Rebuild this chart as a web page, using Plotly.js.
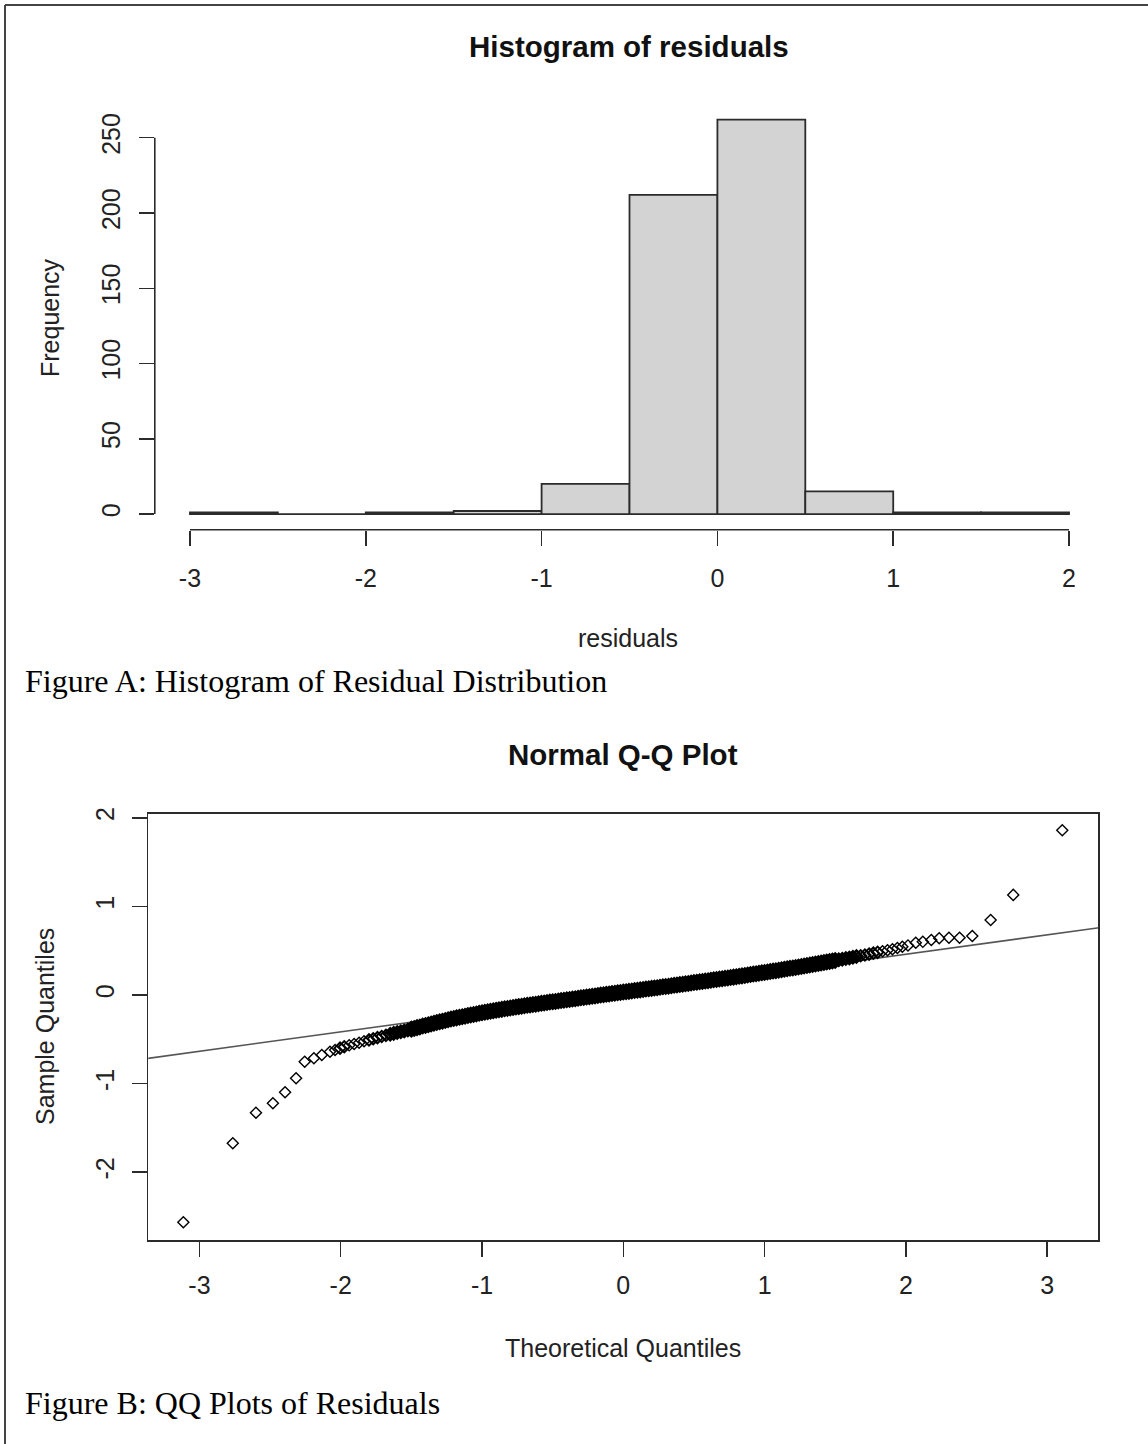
<!DOCTYPE html>
<html>
<head>
<meta charset="utf-8">
<script src="https://cdn.plot.ly/plotly-3.0.1.min.js"></script>
<style>
html,body{margin:0;padding:0;background:#fff;}
#chart{width:1148px;height:1444px;}
</style>
</head>
<body>
<div id="chart"></div>
<script>
// ---------- Data: histogram of residuals ----------
const binEdges = [-3, -2.5, -2, -1.5, -1, -0.5, 0, 0.5, 1, 1.5, 2];
const binCounts = [1, 0, 1, 2, 20, 212, 262, 15, 1, 1];
const histXTicks = [-3, -2, -1, 0, 1, 2];
const histYTicks = [0, 50, 100, 150, 200, 250];

// ---------- Data: normal Q-Q plot ----------
const qqTheoretical = [
  -3.114, -2.764, -2.60, -2.48, -2.394, -2.316, -2.255, -2.19, -2.134, -2.076,
  -2.04, -2.005, -1.975, -1.94, -1.905, -1.87, -1.835, -1.80, -1.77, -1.74,
  -1.71, -1.68, -1.65, -1.625, -1.60, -1.575, -1.55, -1.525,
  -1.50, -1.48, -1.46, -1.44, -1.42, -1.40, -1.38, -1.36, -1.34, -1.32,
  -1.30, -1.28, -1.26, -1.24, -1.22, -1.20, -1.18, -1.16, -1.14, -1.12,
  -1.10, -1.08, -1.06, -1.04, -1.02, -1.00, -0.98, -0.96, -0.94, -0.92,
  -0.90, -0.88, -0.86, -0.84, -0.82, -0.80, -0.78, -0.76, -0.74, -0.72,
  -0.70, -0.68, -0.66, -0.64, -0.62, -0.60, -0.58, -0.56, -0.54, -0.52,
  -0.50, -0.48, -0.46, -0.44, -0.42, -0.40, -0.38, -0.36, -0.34, -0.32,
  -0.30, -0.28, -0.26, -0.24, -0.22, -0.20, -0.18, -0.16, -0.14, -0.12,
  -0.10, -0.08, -0.06, -0.04, -0.02, 0.00, 0.02, 0.04, 0.06, 0.08,
  0.10, 0.12, 0.14, 0.16, 0.18, 0.20, 0.22, 0.24, 0.26, 0.28,
  0.30, 0.32, 0.34, 0.36, 0.38, 0.40, 0.42, 0.44, 0.46, 0.48,
  0.50, 0.52, 0.54, 0.56, 0.58, 0.60, 0.62, 0.64, 0.66, 0.68,
  0.70, 0.72, 0.74, 0.76, 0.78, 0.80, 0.82, 0.84, 0.86, 0.88,
  0.90, 0.92, 0.94, 0.96, 0.98, 1.00, 1.02, 1.04, 1.06, 1.08,
  1.10, 1.12, 1.14, 1.16, 1.18, 1.20, 1.22, 1.24, 1.26, 1.28,
  1.30, 1.32, 1.34, 1.36, 1.38, 1.40, 1.42, 1.44, 1.46, 1.48,
  1.50, 1.525, 1.55, 1.575, 1.60, 1.625, 1.65, 1.68, 1.71, 1.74,
  1.77, 1.80, 1.835, 1.87, 1.905, 1.94, 1.975, 2.015, 2.07, 2.12,
  2.18, 2.236, 2.305, 2.38, 2.47, 2.60, 2.76, 3.107
];
const qqSample = [
  -2.565, -1.674, -1.328, -1.222, -1.098, -0.940, -0.753, -0.714, -0.677, -0.640,
  -0.620, -0.600, -0.584, -0.568, -0.553, -0.538, -0.522, -0.507, -0.494, -0.481,
  -0.468, -0.455, -0.443, -0.433, -0.423, -0.414, -0.405, -0.396,
  -0.385, -0.377, -0.368, -0.360, -0.351, -0.343, -0.335, -0.327, -0.318, -0.310,
  -0.302, -0.295, -0.287, -0.280, -0.272, -0.265, -0.258, -0.252, -0.245, -0.239,
  -0.232, -0.226, -0.219, -0.213, -0.206, -0.200, -0.194, -0.189, -0.183, -0.178,
  -0.172, -0.167, -0.162, -0.156, -0.151, -0.146, -0.141, -0.136, -0.131, -0.126,
  -0.121, -0.116, -0.112, -0.107, -0.103, -0.098, -0.094, -0.089, -0.085, -0.080,
  -0.076, -0.072, -0.067, -0.063, -0.058, -0.054, -0.050, -0.045, -0.041, -0.036,
  -0.032, -0.028, -0.023, -0.019, -0.014, -0.010, -0.006, -0.001, 0.003, 0.008,
  0.012, 0.016, 0.020, 0.025, 0.029, 0.033, 0.037, 0.041, 0.046, 0.050,
  0.054, 0.058, 0.062, 0.067, 0.071, 0.075, 0.079, 0.083, 0.088, 0.092,
  0.096, 0.100, 0.105, 0.109, 0.114, 0.118, 0.122, 0.127, 0.131, 0.136,
  0.140, 0.144, 0.149, 0.153, 0.158, 0.162, 0.166, 0.171, 0.175, 0.180,
  0.184, 0.189, 0.193, 0.198, 0.202, 0.207, 0.212, 0.216, 0.221, 0.226,
  0.231, 0.236, 0.241, 0.245, 0.250, 0.255, 0.260, 0.265, 0.270, 0.275,
  0.280, 0.285, 0.290, 0.296, 0.301, 0.306, 0.311, 0.317, 0.322, 0.328,
  0.333, 0.339, 0.344, 0.350, 0.355, 0.361, 0.367, 0.373, 0.378, 0.384,
  0.390, 0.397, 0.404, 0.411, 0.418, 0.426, 0.434, 0.443, 0.452, 0.462,
  0.472, 0.482, 0.493, 0.505, 0.517, 0.530, 0.545, 0.560, 0.590, 0.600,
  0.620, 0.640, 0.647, 0.647, 0.666, 0.846, 1.130, 1.860
];
// reference line (qqline) endpoints, in data units
const qqLineX = [-3.5, 3.5];
const qqLineY = [-0.745, 0.789];
const qqXTicks = [-3, -2, -1, 0, 1, 2, 3];
const qqYTicks = [-2, -1, 0, 1, 2];

// ---------- Text ----------
const histTitle = 'Histogram of residuals';
const histXLabel = 'residuals';
const histYLabel = 'Frequency';
const qqTitle = 'Normal Q-Q Plot';
const qqXLabel = 'Theoretical Quantiles';
const qqYLabel = 'Sample Quantiles';
const captionA = 'Figure A: Histogram of Residual Distribution';
const captionB = 'Figure B: QQ Plots of Residuals';

// ---------- Build ----------
const W = 1148, H = 1444;
const px = v => v / W;             // pixel x -> paper
const py = v => 1 - v / H;         // pixel y (from top) -> paper

const binMid = binCounts.map((c, i) => (binEdges[i] + binEdges[i + 1]) / 2);
const binWidth = binCounts.map((c, i) => binEdges[i + 1] - binEdges[i]);

// Where points are packed closely, the original's overlapping open symbols merge
// into a solid black band; emulate with filled symbols / heavier outlines there.
const qqDensity = qqTheoretical.map((v, i) => {
  const a = i > 0 ? v - qqTheoretical[i - 1] : 1;
  const b = i < qqTheoretical.length - 1 ? qqTheoretical[i + 1] - v : 1;
  const gap = Math.min(a, b);
  if (gap <= 0.021) return 1;
  if (gap >= 0.034) return 0;
  return 1 - (gap - 0.021) / 0.013;
});
const qqSymbols = qqDensity.map(d => d >= 1 ? 'diamond' : 'diamond-open');
const qqLineWidths = qqDensity.map(d => 1.4 + 1.8 * d);
const qqSizes = qqDensity.map(d => d >= 1 ? 10 : 8.5 + 0.8 * d);

const SANS = 'Arial, "Liberation Sans", sans-serif';
const SERIF = '"Times New Roman", "Liberation Serif", serif';
const INK = '#2b2b2b';
const tickFont = {family: SANS, size: 25, color: '#222'};

const traces = [
  {
    type: 'bar', x: binMid, y: binCounts, width: binWidth,
    xaxis: 'x', yaxis: 'y',
    marker: {color: '#D3D3D3', line: {color: INK, width: 1.8}},
    hoverinfo: 'skip'
  },
  {
    type: 'scatter', mode: 'lines', x: qqLineX, y: qqLineY,
    xaxis: 'x2', yaxis: 'y2',
    line: {color: '#555', width: 1.6}, hoverinfo: 'skip'
  },
  {
    type: 'scatter', mode: 'markers', x: qqTheoretical, y: qqSample,
    xaxis: 'x2', yaxis: 'y2', cliponaxis: true,
    marker: {symbol: qqSymbols, size: qqSizes, color: '#000', opacity: 1,
             line: {width: qqLineWidths, color: '#000'}},
    hoverinfo: 'skip'
  }
];

const axisCommon = {
  showgrid: false, zeroline: false, ticks: 'outside', ticklen: 15,
  tickwidth: 1.5, tickcolor: INK, tickfont: tickFont, fixedrange: true
};

const layout = {
  width: W, height: H,
  margin: {l: 0, r: 0, t: 0, b: 0, pad: 0},
  paper_bgcolor: '#fff', plot_bgcolor: 'rgba(0,0,0,0)',
  showlegend: false, bargap: 0,
  xaxis: Object.assign({}, axisCommon, {
    domain: [px(154.8), px(1104.2)], range: [-3.2, 2.2],
    tickmode: 'array', tickvals: histXTicks, ticktext: histXTicks.map(String),
    showline: false, anchor: 'y', ticklabelstandoff: 11
  }),
  yaxis: Object.assign({}, axisCommon, {
    domain: [py(529.8), py(103.9)], range: [-10.48, 272.48],
    tickmode: 'array', tickvals: histYTicks, ticktext: histYTicks.map(String),
    showline: false, anchor: 'x', tickangle: -90, ticklabelstandoff: 9
  }),
  xaxis2: Object.assign({}, axisCommon, {
    domain: [px(148.3), px(1098.3)], range: [-3.362, 3.362],
    tickmode: 'array', tickvals: qqXTicks, ticktext: qqXTicks.map(String),
    showline: true, mirror: true, linecolor: INK, linewidth: 1.6,
    anchor: 'y2', ticklabelstandoff: 7
  }),
  yaxis2: Object.assign({}, axisCommon, {
    domain: [py(1240), py(814)], range: [-2.765, 2.043],
    tickmode: 'array', tickvals: qqYTicks, ticktext: qqYTicks.map(String),
    showline: true, mirror: true, linecolor: INK, linewidth: 1.6,
    anchor: 'x2', tickangle: -90, ticklabelstandoff: 8
  }),
  shapes: [
    // R-style axis lines for the histogram spanning only the tick range
    {type: 'line', xref: 'x', yref: 'y domain',
     x0: histXTicks[0], x1: histXTicks[histXTicks.length - 1], y0: 0, y1: 0,
     line: {color: INK, width: 1.6}},
    {type: 'line', xref: 'x domain', yref: 'y',
     x0: 0, x1: 0, y0: histYTicks[0], y1: histYTicks[histYTicks.length - 1],
     line: {color: INK, width: 1.6}},
    // page border (top and left)
    {type: 'line', xref: 'paper', yref: 'paper', x0: px(5), x1: 1, y0: py(5), y1: py(5),
     line: {color: '#444', width: 2}},
    {type: 'line', xref: 'paper', yref: 'paper', x0: px(5), x1: px(5), y0: 0, y1: py(5),
     line: {color: '#444', width: 2}}
  ],
  annotations: [
    {text: '<b>' + histTitle + '</b>', xref: 'paper', yref: 'paper', x: px(629), y: py(46),
     xanchor: 'center', yanchor: 'middle', showarrow: false, font: {family: SANS, size: 29.5, color: '#111'}},
    {text: histXLabel, xref: 'paper', yref: 'paper', x: px(628), y: py(638),
     xanchor: 'center', yanchor: 'middle', showarrow: false, font: {family: SANS, size: 25, color: '#222'}},
    {text: histYLabel, xref: 'paper', yref: 'paper', x: px(50), y: py(318), textangle: -90,
     xanchor: 'center', yanchor: 'middle', showarrow: false, font: {family: SANS, size: 25, color: '#222'}},
    {text: '<b>' + qqTitle + '</b>', xref: 'paper', yref: 'paper', x: px(623), y: py(754),
     xanchor: 'center', yanchor: 'middle', showarrow: false, font: {family: SANS, size: 29.5, color: '#111'}},
    {text: qqXLabel, xref: 'paper', yref: 'paper', x: px(623), y: py(1348),
     xanchor: 'center', yanchor: 'middle', showarrow: false, font: {family: SANS, size: 25, color: '#222'}},
    {text: qqYLabel, xref: 'paper', yref: 'paper', x: px(45), y: py(1027), textangle: -90,
     xanchor: 'center', yanchor: 'middle', showarrow: false, font: {family: SANS, size: 25, color: '#222'}},
    {text: captionA, xref: 'paper', yref: 'paper', x: px(23), y: py(681),
     xanchor: 'left', yanchor: 'middle', showarrow: false, font: {family: SERIF, size: 32, color: '#000'}},
    {text: captionB, xref: 'paper', yref: 'paper', x: px(23), y: py(1403),
     xanchor: 'left', yanchor: 'middle', showarrow: false, font: {family: SERIF, size: 32, color: '#000'}}
  ]
};

Plotly.newPlot('chart', traces, layout, {staticPlot: true, displayModeBar: false});
</script>
</body>
</html>
